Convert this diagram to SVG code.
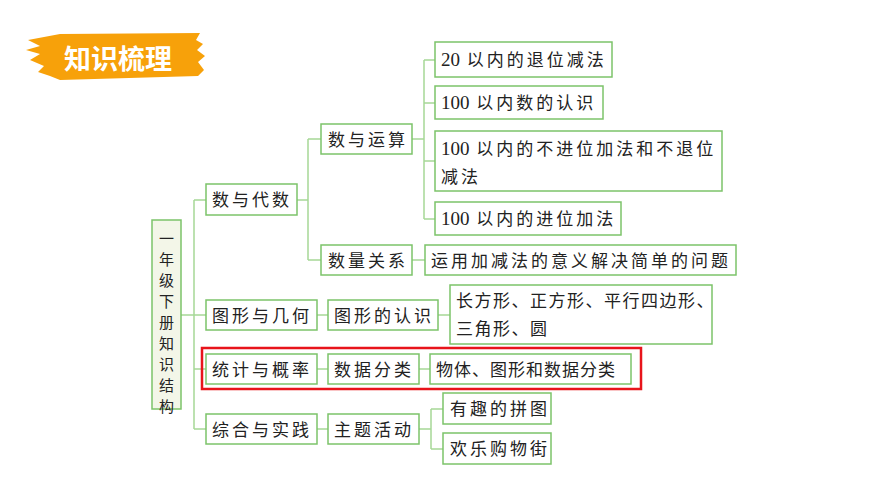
<svg xmlns="http://www.w3.org/2000/svg" width="870" height="489" viewBox="0 0 870 489">
<style>
.b{fill:#fff;stroke:#7cc36a;stroke-width:1.5}
.t{font-family:"Noto Sans CJK SC",sans-serif;font-size:17px;fill:#222;letter-spacing:3px}
.r{font-family:"Noto Sans CJK SC",sans-serif;font-size:15px;fill:#222}
.n{font-family:"Liberation Serif","Noto Sans CJK SC",serif;font-size:19px;letter-spacing:0}
.c{fill:none;stroke:#a6d897;stroke-width:1.5}
</style>
<rect width="870" height="489" fill="#fff"/>
<g id="title">
<path d="M28 40 L60 34 L200 33 L196 40 L203 44 L197 50 L205 56 L198 62 L204 70 L198 76 L60 80 L50 76 L38 72 L44 66 L30 60 L40 54 L26 50 L40 46 Z" fill="#f7a10a"/>
<text x="118" y="69" font-family="Noto Sans CJK SC,sans-serif" font-size="27" font-weight="bold" fill="#fff" text-anchor="middle">知识梳理</text>
</g>
<g id="connectors" class="c">
<path d="M181 315 H194 M194 200 V429 M194 200 H206 M194 315 H206 M194 369 H206 M194 429 H206"/>
<path d="M297 200 H308 M308 139 V260 M308 139 H321 M308 260 H321"/>
<path d="M412 139 H424 M424 60 V219 M424 60 H435 M424 103 H435 M424 161 H435 M424 219 H435"/>
<path d="M412 260 H425 M317 315 H328 M438 315 H450 M317 369 H328 M419 369 H430"/>
<path d="M317 429 H328 M419 429 H431 M431 409 V449 M431 409 H443 M431 449 H443"/>
</g>
<g id="root"><rect x="152" y="220" width="29" height="189" fill="#f3f6e8" stroke="#7cc36a" stroke-width="1.5"/>
<text class="r" x="166.5" y="240" text-anchor="middle"><tspan x="166.5" dy="4">一</tspan><tspan x="166.5" dy="21">年</tspan><tspan x="166.5" dy="21">级</tspan><tspan x="166.5" dy="21">下</tspan><tspan x="166.5" dy="21">册</tspan><tspan x="166.5" dy="21">知</tspan><tspan x="166.5" dy="21">识</tspan><tspan x="166.5" dy="21">结</tspan><tspan x="166.5" dy="21">构</tspan></text></g>
<g id="n1"><rect class="b" x="206" y="184" width="91" height="31"/><text class="t" x="212" y="206">数与代数</text></g>
<g id="n2"><rect class="b" x="206" y="300" width="111" height="30"/><text class="t" x="212" y="322">图形与几何</text></g>
<g id="n3"><rect class="b" x="206" y="354" width="111" height="30"/><text class="t" x="212" y="376">统计与概率</text></g>
<g id="n4"><rect class="b" x="206" y="414" width="111" height="30"/><text class="t" x="212" y="436">综合与实践</text></g>
<g id="n5"><rect class="b" x="321" y="124" width="91" height="30"/><text class="t" x="328" y="146">数与运算</text></g>
<g id="n6"><rect class="b" x="321" y="245" width="91" height="30"/><text class="t" x="328" y="267">数量关系</text></g>
<g id="n7"><rect class="b" x="328" y="300" width="110" height="30"/><text class="t" x="334" y="322">图形的认识</text></g>
<g id="n8"><rect class="b" x="328" y="354" width="91" height="30"/><text class="t" x="334" y="376">数据分类</text></g>
<g id="n9"><rect class="b" x="328" y="414" width="91" height="30"/><text class="t" x="334" y="436">主题活动</text></g>
<g id="n10"><rect class="b" x="435" y="42" width="177" height="35"/><text class="t" x="441" y="66"><tspan class="n">20</tspan> 以内的退位减法</text></g>
<g id="n11"><rect class="b" x="435" y="86" width="168" height="33"/><text class="t" x="441" y="109"><tspan class="n">100</tspan> 以内数的认识</text></g>
<g id="n12"><rect class="b" x="435" y="131" width="287" height="60"/><text class="t" x="441" y="155"><tspan class="n">100</tspan> 以内的不进位加法和不退位</text><text class="t" x="441" y="183">减法</text></g>
<g id="n13"><rect class="b" x="435" y="202" width="186" height="33"/><text class="t" x="441" y="225"><tspan class="n">100</tspan> 以内的进位加法</text></g>
<g id="n14"><rect class="b" x="425" y="245" width="311" height="30"/><text class="t" x="431" y="267">运用加减法的意义解决简单的问题</text></g>
<g id="n15"><rect class="b" x="450" y="285" width="262" height="59"/><text class="t" x="456" y="307" style="letter-spacing:1.5px">长方形、正方形、平行四边形、</text><text class="t" x="456" y="335" style="letter-spacing:1.5px">三角形、圆</text></g>
<g id="n16"><rect class="b" x="430" y="354" width="201" height="30"/><text class="t" x="436" y="376" style="letter-spacing:1px">物体、图形和数据分类</text></g>
<g id="n17"><rect class="b" x="443" y="393" width="108" height="31"/><text class="t" x="450" y="415">有趣的拼图</text></g>
<g id="n18"><rect class="b" x="443" y="433" width="108" height="31"/><text class="t" x="450" y="455">欢乐购物街</text></g>
<rect id="highlight" x="202" y="348" width="439" height="41" fill="none" stroke="#e8141b" stroke-width="2.5"/>
</svg>
